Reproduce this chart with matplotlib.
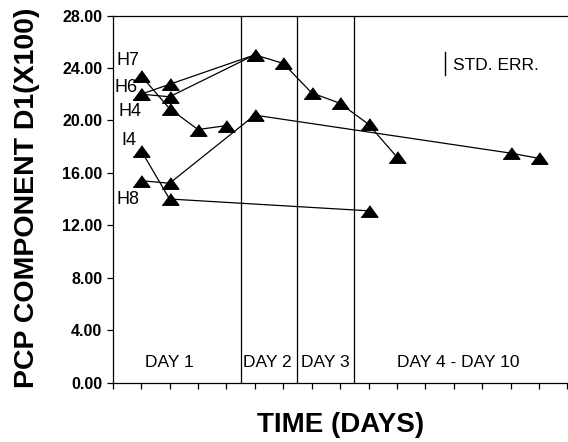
import numpy as np
import matplotlib
matplotlib.use("Agg")
import matplotlib.pyplot as plt

plt.rcParams['font.family'] = ['Liberation Sans', 'DejaVu Sans']

# time (days) and PCP component D1 (x100) for each subject
h7_x = [1, 2, 3, 4]
h7_y = [23.4, 20.9, 19.3, 19.6]

h6_x = [1, 2, 5, 6, 7, 8, 9, 10]
h6_y = [22.0, 22.75, 25.0, 24.35, 22.1, 21.3, 19.7, 17.2]

h4_x = [1, 2, 5]
h4_y = [22.0, 21.8, 25.0]

i4_x = [1, 2, 9]
i4_y = [17.7, 14.0, 13.1]

h8_x = [1, 2, 5, 14, 15]
h8_y = [15.4, 15.2, 20.4, 17.5, 17.1]

series_labels = ["H7", "H6", "H4", "I4", "H8"]
label_pos = [(0.14, 24.6), (0.08, 22.5), (0.22, 20.65), (0.32, 18.5), (0.12, 13.95)]

day_breaks = [4.5, 6.5, 8.5]
day_names = ["DAY 1", "DAY 2", "DAY 3", "DAY 4 - DAY 10"]

yticks = [0, 4, 8, 12, 16, 20, 24, 28]

# wide flat triangle marker
tri = [(-1, -0.69), (1, -0.69), (0, 0.69)]

fig = plt.figure(figsize=(5.68, 4.42), dpi=100)
ax = fig.add_axes([0.1984, 0.1346, 0.8007, 0.8303])

for xs, ys in [(h7_x, h7_y), (h6_x, h6_y), (h4_x, h4_y), (i4_x, i4_y), (h8_x, h8_y)]:
    ax.plot(xs, ys, color='black', lw=0.9, marker=tri, ms=12,
            markerfacecolor='black', markeredgecolor='black')

for xb in day_breaks:
    ax.axvline(xb, color='black', lw=0.9)

for name, (tx, ty) in zip(series_labels, label_pos):
    ax.text(tx, ty, name, fontsize=13, ha='left', va='center')

ax.text(2.01, 1.5, day_names[0], fontsize=12.5, ha='center', va='center')
ax.text(4.59, 1.5, day_names[1], fontsize=12.5, ha='left', va='center')
ax.text(6.62, 1.5, day_names[2], fontsize=12.5, ha='left', va='center')
ax.text(12.14, 1.5, day_names[3], fontsize=12.5, ha='center', va='center')

# std. err. legend
ax.plot([11.68, 11.68], [23.46, 25.24], color='black', lw=1.0)
ax.text(11.98, 24.16, "STD. ERR.", fontsize=12.5, ha='left', va='center')

ax.set_xlim(0, 16)
ax.set_ylim(0, 28)
ax.set_xticks(range(0, 17))
ax.set_xticklabels([])
ax.set_yticks(yticks)
ax.set_yticklabels(['%.2f' % v for v in yticks], fontsize=11.5, fontweight='bold')
ax.tick_params(direction='out', length=4, width=0.9, color='black')

ax.spines['right'].set_visible(False)
for s in ['left', 'top', 'bottom']:
    ax.spines[s].set_linewidth(0.9)

ax.set_ylabel("PCP COMPONENT D1(X100)", fontsize=20.5, fontweight='bold', va='center')
ax.yaxis.set_label_coords(-0.188, 0.503)
ax.set_xlabel("TIME (DAYS)", fontsize=20, fontweight='bold', va='center')
ax.xaxis.set_label_coords(0.5, -0.116)

fig.savefig("out.png", dpi=100)
